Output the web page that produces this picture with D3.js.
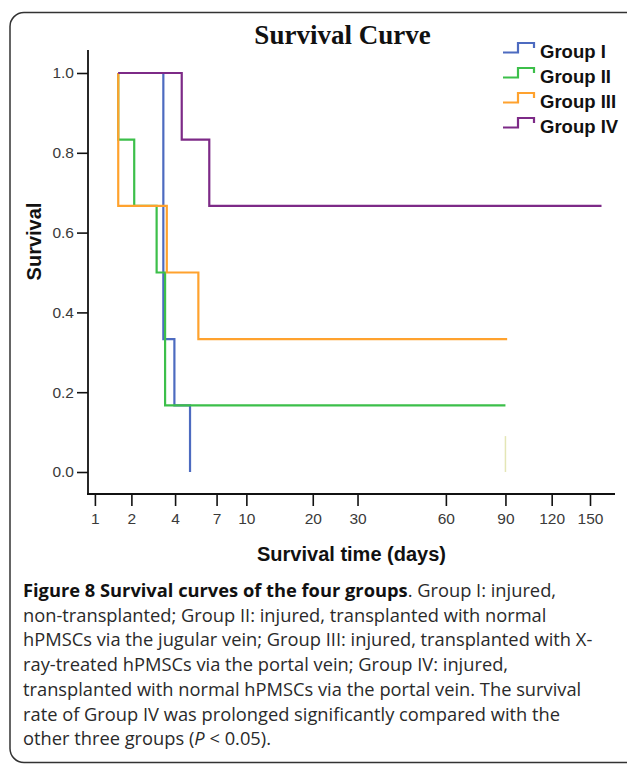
<!DOCTYPE html>
<html><head><meta charset="utf-8">
<script src="https://cdn.jsdelivr.net/npm/d3@7"></script>
<style>body{margin:0;background:#fff}</style>
</head><body>
<svg id="c" width="627" height="770"></svg>
<script>
// ---- data ----
const groups = ["Group I", "Group II", "Group III", "Group IV"];
const colors = ["#4d6bc0", "#3cbf4a", "#ffa22e", "#7d2a87"];
// step points per group: [time (days), survival after that time]
const timesI   = [1.58, 3.36, 3.96, 4.94];
const survI    = [1.0, 0.333, 0.167, 0.0];
const timesII  = [1.58, 1.58, 2.1, 3.03, 3.45, 90];
const survII   = [1.0, 0.833, 0.667, 0.5, 0.167, 0.167];
const timesIII = [1.58, 1.58, 3.54, 5.53, 91];
const survIII  = [1.0, 0.667, 0.5, 0.333, 0.333];
const timesIV  = [1.58, 4.4, 6.38, 160];
const survIV   = [1.0, 0.833, 0.667, 0.667];
const censorTime = 90, censorTop = 0.09;
const xTicks = [1, 2, 4, 7, 10, 20, 30, 60, 90, 120, 150];
const yTicks = [0, 0.2, 0.4, 0.6, 0.8, 1.0];
const captionLines = [
  [{t:"Figure 8 Survival curves of the four groups", b:true}, {t:". Group I: injured,"}],
  [{t:"non-transplanted; Group II: injured, transplanted with normal"}],
  [{t:"hPMSCs via the jugular vein; Group III: injured, transplanted with X-"}],
  [{t:"ray-treated hPMSCs via the portal vein; Group IV: injured,"}],
  [{t:"transplanted with normal hPMSCs via the portal vein. The survival"}],
  [{t:"rate of Group IV was prolonged significantly compared with the"}],
  [{t:"other three groups ("}, {t:"P", i:true}, {t:" < 0.05)."}]
];

const series = [
  d3.zip(timesI, survI), d3.zip(timesII, survII),
  d3.zip(timesIII, survIII), d3.zip(timesIV, survIV)
];

const svg = d3.select("#c");
const x = d3.scalePow().exponent(0.26).domain([1, 150]).range([94.9, 590]);
const y = d3.scaleLinear().domain([0, 1]).range([472, 73]);

// frame
svg.append("rect").attr("x", 10).attr("y", 12.5).attr("width", 700).attr("height", 750)
  .attr("rx", 14).attr("fill", "none").attr("stroke", "#333").attr("stroke-width", 1.5);

// title
svg.append("text").attr("x", 342.5).attr("y", 44).attr("text-anchor", "middle")
  .attr("font-family", "Liberation Serif").attr("font-weight", "bold").attr("font-size", 27)
  .attr("fill", "#111").text("Survival Curve");

// axes
const axisFont = "Liberation Sans";
const gx = svg.append("g").attr("transform", "translate(0,494)")
  .call(d3.axisBottom(x).tickValues(xTicks).tickFormat(d3.format("d")).tickSize(12).tickPadding(7));
const gy = svg.append("g").attr("transform", "translate(88,0)")
  .call(d3.axisLeft(y).tickValues(yTicks).tickFormat(d3.format(".1f")).tickSize(11).tickPadding(3));
[gx, gy].forEach(g => {
  g.select(".domain").remove();
  g.selectAll(".tick line").attr("stroke", "#111").attr("stroke-width", 1.6);
  g.selectAll(".tick text").attr("font-family", axisFont).attr("font-size", 15.5).attr("fill", "#3a3a3a");
});
svg.append("line").attr("x1", 88).attr("x2", 88).attr("y1", 50).attr("y2", 495)
  .attr("stroke", "#111").attr("stroke-width", 1.8);
svg.append("line").attr("x1", 87).attr("x2", 615).attr("y1", 494).attr("y2", 494)
  .attr("stroke", "#111").attr("stroke-width", 1.8);

// axis titles
svg.append("text").attr("x", 351.5).attr("y", 561).attr("text-anchor", "middle")
  .attr("font-family", axisFont).attr("font-weight", "bold").attr("font-size", 20)
  .attr("fill", "#111").text("Survival time (days)");
svg.append("text").attr("transform", "translate(41,241.5) rotate(-90)").attr("text-anchor", "middle")
  .attr("font-family", axisFont).attr("font-weight", "bold").attr("font-size", 20)
  .attr("fill", "#111").text("Survival");

// censor mark
svg.append("line").attr("x1", x(censorTime)).attr("x2", x(censorTime))
  .attr("y1", y(0)).attr("y2", y(censorTop)).attr("stroke", "#e4e6b6").attr("stroke-width", 1.5);

// curves
const line = d3.line().x(d => x(d[0])).y(d => y(d[1])).curve(d3.curveStepAfter);
svg.append("g").selectAll("path").data(series).join("path")
  .attr("d", line).attr("fill", "none")
  .attr("stroke", (d, i) => colors[i]).attr("stroke-width", 2.2);

// legend
const leg = svg.append("g").selectAll("g").data(groups).join("g")
  .attr("transform", (d, i) => `translate(0,${52 + i * 25})`);
leg.append("path").attr("d", "M503,0.5H518V-9H534V-4")
  .attr("fill", "none").attr("stroke", (d, i) => colors[i]).attr("stroke-width", 2.2);
leg.append("text").attr("x", 540).attr("y", 5.5)
  .attr("font-family", axisFont).attr("font-weight", "bold").attr("font-size", 18.5)
  .attr("fill", "#111").text(d => d);

// caption
const cap = svg.append("g").attr("font-family", "Open Sans").attr("font-size", 18.3).attr("fill", "#2a2a2a");
captionLines.forEach((parts, i) => {
  const t = cap.append("text").attr("x", 23).attr("y", 597 + i * 24.7);
  parts.forEach(p => {
    const s = t.append("tspan").text(p.t);
    if (p.b) s.attr("font-weight", "bold").attr("fill", "#111");
    if (p.i) s.attr("font-style", "italic");
  });
});
</script>
</body></html>
